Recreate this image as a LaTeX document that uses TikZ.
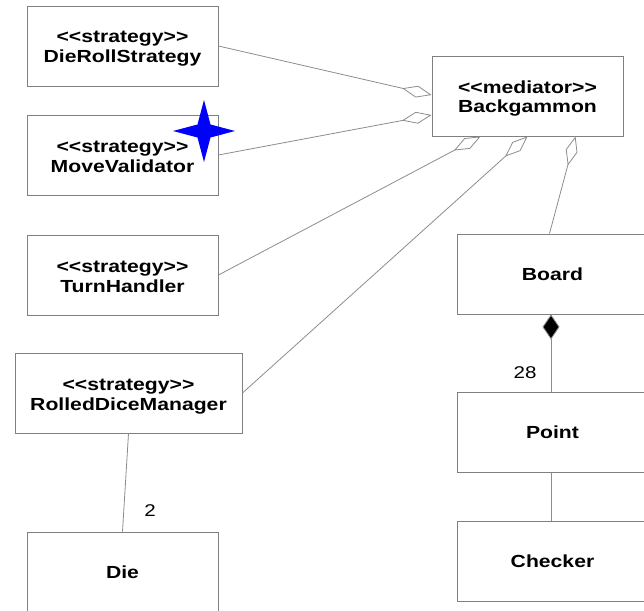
\documentclass[tikz,border=0pt]{standalone}
\usepackage{fontspec}
\setmainfont{Liberation Sans}[FakeStretch=1.21]
\usetikzlibrary{arrows.meta,calc}
\newcommand\stereo[1]{<\kern0pt<#1>\kern0pt>}
\newcommand\twol[2]{\raisebox{0pt}[\dimexpr\height+6pt\relax][\depth]{\begin{tabular}{@{}c@{}}#1\\#2\end{tabular}}}
\begin{document}
\begin{tikzpicture}[x=1pt,y=-1pt,
  cls/.style={draw=black!50,line width=0.9pt,fill=white,minimum width=191pt,minimum height=80pt,inner sep=0pt,
    font=\fontsize{17.5}{20}\selectfont\bfseries,align=center},
  conn/.style={draw=black!45,line width=0.8pt},
  agg/.style={conn,-{Diamond[open,length=30pt,width=12pt,line width=0.8pt]}},
  comp/.style={conn,{Diamond[length=25pt,width=17pt,fill=black]}-},
  lab/.style={font=\fontsize{17}{20}\selectfont}
]
\useasboundingbox (0,0) rectangle (644,610);
\node[cls] (drs) at (122.5,46) {\twol{\stereo{strategy}}{DieRollStrategy}};
\node[cls] (mv) at (122.5,155) {\twol{\stereo{strategy}}{MoveValidator}};
\node[cls] (th) at (122.5,275) {\twol{\stereo{strategy}}{TurnHandler}};
\node[cls,minimum width=227pt] (rdm) at (128.5,393) {\twol{\stereo{strategy}}{RolledDiceManager}};
\node[cls] (die) at (122.5,572) {Die};
\node[cls] (bg) at (527.5,96) {\twol{\stereo{mediator}}{Backgammon}};
\node[cls] (board) at (552.5,274) {Board};
\node[cls] (point) at (552.5,432.5) {Point};
\node[cls] (checker) at (552.5,561) {Checker};

\draw[agg] (drs.east) -- ($(bg.west)+(0,-1)$);
\draw[agg] (mv.east) -- ($(bg.west)+(0,19)$);
\draw[agg] (th.east) -- ($(bg.south)+(-47,0)$);
\draw[agg] (rdm.east) -- (bg.south);
\draw[agg] ($(board.north)+(-3,0)$) -- ($(bg.south)+(48,0)$);
\draw[comp] ($(board.south)+(-1.5,0)$) -- ($(point.north)+(-1.5,0)$);
\draw[conn] ($(point.south)+(-1.5,0)$) -- ($(checker.north)+(-1.5,0)$);
\draw[conn] (rdm.south) -- (die.north);
\node[lab] (n28) at (525,373) {28};
\node[lab] (n2) at (150,511) {2};

\fill[blue] (204,131) ++(0,-31) -- ++(6.5,24.5) -- ++(24.5,6.5) -- ++(-24.5,6.5) -- ++(-6.5,24.5) -- ++(-6.5,-24.5) -- ++(-24.5,-6.5) -- ++(24.5,-6.5) -- cycle;
\end{tikzpicture}
\end{document}
